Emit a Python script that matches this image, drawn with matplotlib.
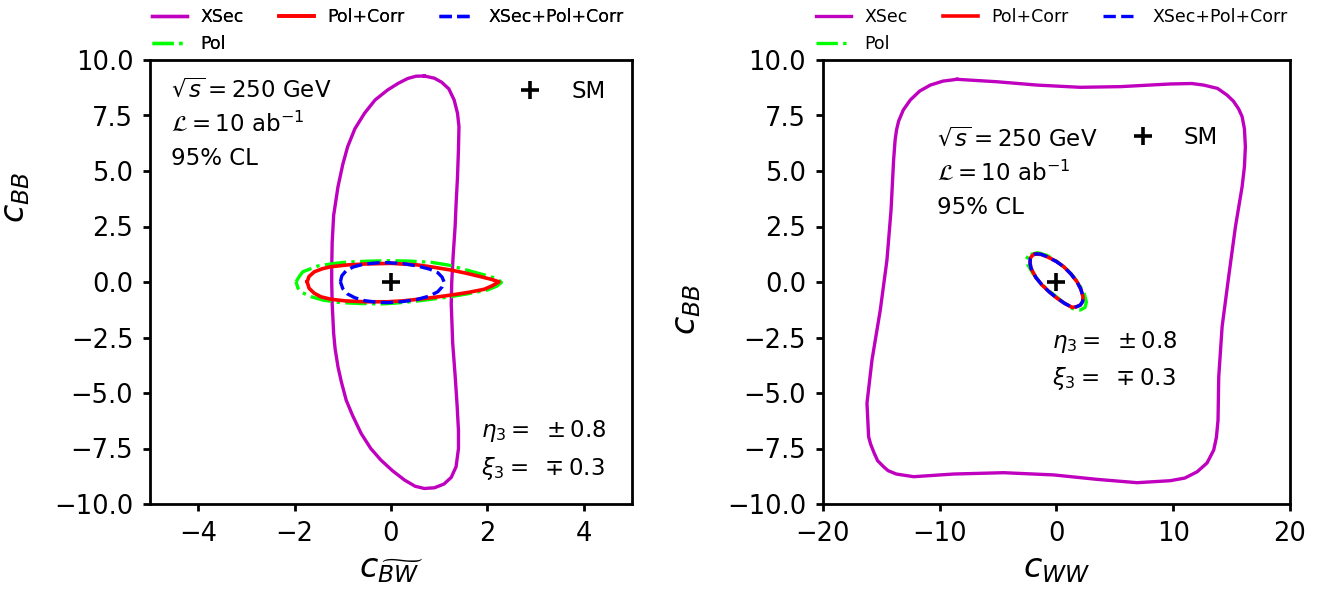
import matplotlib
matplotlib.use("Agg")
import matplotlib.pyplot as plt
from matplotlib.lines import Line2D

# ---- left panel: c_BB vs c_BWtilde (contours) ----
xsec_l_x = [0.69, 0.90, 1.05, 1.20, 1.31, 1.38, 1.41, 1.40, 1.38, 1.35, 1.33, 1.29, 1.26, 1.25,
            1.28, 1.33, 1.37, 1.40, 1.40, 1.35, 1.25, 1.10, 0.90, 0.69, 0.50, 0.28, 0.03, -0.21,
            -0.42, -0.62, -0.80, -0.93, -1.03, -1.10, -1.16, -1.19, -1.22, -1.23, -1.23, -1.22,
            -1.19, -1.10, -1.00, -0.90, -0.75, -0.55, -0.33, -0.07, 0.15, 0.35, 0.52, 0.69]
xsec_l_y = [9.28, 9.18, 9.00, 8.70, 8.20, 7.60, 7.00, 6.00, 4.74, 3.50, 2.49, 1.20, 0.00, -1.00,
            -2.76, -4.20, -5.50, -6.70, -7.50, -8.32, -8.80, -9.10, -9.27, -9.30, -9.20, -8.92,
            -8.50, -8.02, -7.50, -6.82, -6.00, -5.32, -4.50, -3.82, -3.00, -2.31, -1.00, 0.00,
            0.69, 1.80, 3.00, 4.29, 5.30, 6.09, 6.90, 7.60, 8.20, 8.65, 8.95, 9.17, 9.27, 9.28]

pol_l_x = [-1.97, -1.90, -1.83, -1.52, -1.20, -0.90, -0.45, 0.00, 0.40, 0.83, 1.20, 1.52, 1.80,
           2.07, 2.22, 2.29, 2.20, 2.00, 1.62, 1.24, 0.83, 0.41, 0.10, -0.21, -0.62, -1.04, -1.40,
           -1.66, -1.85, -1.93, -1.97]
pol_l_y = [0.01, 0.26, 0.46, 0.72, 0.83, 0.90, 0.94, 0.96, 0.94, 0.89, 0.76, 0.57, 0.40,
           0.24, 0.12, -0.02, -0.18, -0.36, -0.52, -0.66, -0.78, -0.89, -0.95, -0.99, -0.97,
           -0.93, -0.82, -0.66, -0.47, -0.28, 0.01]

polcorr_l_x = [-1.74, -1.70, -1.59, -1.42, -1.24, -0.90, -0.55, 0.00, 0.55, 0.90, 1.24, 1.55,
               1.86, 2.08, 2.24, 2.10, 1.93, 1.60, 1.24, 0.90, 0.55, 0.25, -0.07, -0.55, -0.95,
               -1.24, -1.45, -1.59, -1.70, -1.74]
polcorr_l_y = [0.01, 0.25, 0.46, 0.60, 0.69, 0.77, 0.81, 0.84, 0.77, 0.66, 0.54, 0.40, 0.24,
               0.12, 0.01, -0.17, -0.33, -0.47, -0.59, -0.69, -0.78, -0.85, -0.89, -0.89,
               -0.85, -0.78, -0.67, -0.51, -0.28, 0.01]

all_l_x = [-1.05, -1.02, -0.93, -0.78, -0.55, -0.30, -0.07, 0.25, 0.55, 0.80, 0.97, 1.06, 1.10,
           1.06, 0.97, 0.80, 0.55, 0.25, -0.07, -0.30, -0.55, -0.75, -0.90, -1.00, -1.05]
all_l_y = [0.01, 0.28, 0.51, 0.68, 0.81, 0.86, 0.87, 0.83, 0.72, 0.58, 0.42, 0.22, 0.01,
           -0.22, -0.44, -0.63, -0.78, -0.88, -0.93, -0.91, -0.84, -0.71, -0.54, -0.30, 0.01]

# ---- right panel: c_BB vs c_WW ----
xsec_r_x = [-8.50, -5.08, -1.65, 2.05, 5.48, 9.76, 11.60, 12.61, 13.80, 14.61, 15.15, 15.60, 15.90,
            16.10, 16.18, 16.10, 15.90, 15.33, 14.75, 14.19, 13.90, 13.84, 13.70, 13.47, 12.90,
            12.05, 11.00, 9.76, 6.91, 3.48, -0.23, -4.51, -8.79, -12.22, -13.70, -14.40, -14.79,
            -15.30, -15.60, -15.90, -16.07, -16.21, -15.78, -15.07, -14.50, -14.15, -13.93, -13.80,
            -13.68, -13.50, -13.10, -12.50, -11.70, -10.79, -9.70, -8.50]
xsec_r_y = [9.13, 9.02, 8.87, 8.77, 8.80, 8.92, 8.94, 8.87, 8.72, 8.42, 8.15, 7.80, 7.45,
            6.90, 6.09, 5.20, 4.29, 2.49, 0.24, -2.01, -4.27, -6.22, -7.00, -7.57, -8.15, -8.55,
            -8.83, -8.95, -9.04, -8.89, -8.69, -8.59, -8.65, -8.77, -8.65, -8.50, -8.32, -8.05,
            -7.70, -7.30, -6.97, -5.46, -3.51, -1.26, 0.99, 3.24, 5.50, 6.40, 6.85, 7.25, 7.75,
            8.20, 8.60, 8.87, 9.05, 9.13]

pol_r_x = [-2.20, -1.60, -0.80, 0.00, 0.70, 1.30, 1.90, 2.40, 2.57, 2.45, 2.05, 1.40, 0.60,
           -0.10, -0.80, -1.40, -2.00, -2.45, -2.57, -2.40, -2.20]
pol_r_y = [1.24, 1.32, 1.20, 0.94, 0.66, 0.35, -0.05, -0.55, -0.90, -1.15, -1.26, -1.20, -0.92,
           -0.62, -0.32, -0.02, 0.38, 0.78, 1.02, 1.18, 1.24]

polcorr_r_x = [-1.80, -1.30, -0.80, 0.00, 0.63, 1.25, 1.77, 2.10, 2.28, 2.25, 2.05, 1.70, 1.34,
               0.70, 0.06, -0.60, -1.22, -1.75, -2.17, -2.25, -2.23, -2.05, -1.80]
polcorr_r_y = [1.26, 1.24, 1.14, 0.93, 0.69, 0.36, 0.01, -0.33, -0.66, -0.88, -1.04, -1.12, -1.14,
               -0.96, -0.73, -0.45, -0.14, 0.20, 0.62, 0.85, 1.07, 1.20, 1.26]

all_r_x = [-1.80, -1.30, -0.80, 0.00, 0.63, 1.25, 1.77, 2.10, 2.28, 2.25, 2.05, 1.70, 1.34,
           0.70, 0.06, -0.60, -1.22, -1.75, -2.17, -2.25, -2.23, -2.05, -1.80]
all_r_y = [1.27, 1.25, 1.14, 0.92, 0.69, 0.36, 0.01, -0.33, -0.66, -0.88, -1.04, -1.12, -1.14,
           -0.96, -0.73, -0.45, -0.14, 0.20, 0.62, 0.85, 1.07, 1.20, 1.27]

sm_point = (0.0, 0.0)

info_labels = [r"$\sqrt{s} = 250$ GeV", r"$\mathcal{L} = 10$ ab$^{-1}$", "95% CL"]
pol_labels = [r"$\eta_3 =\ \pm 0.8$", r"$\xi_3 =\ \mp 0.3$"]
series_labels = ["XSec", "Pol", "Pol+Corr", "XSec+Pol+Corr"]

TICK_FS = 18.5
LABEL_FS = 24
NOTE_FS = 16.5
LEG_FS = 12.5

fig = plt.figure(figsize=(13.17, 5.89), dpi=100)
ax_l = fig.add_axes([150 / 1317, 85 / 589, 482 / 1317, 444 / 589])
ax_r = fig.add_axes([822.7 / 1317, 85 / 589, 467.3 / 1317, 444 / 589])


def draw_panel(ax, xs, ps, pcs, alls):
    l1, = ax.plot(xs[0], xs[1], color="m", lw=2.4)
    l2, = ax.plot(ps[0], ps[1], color="lime", lw=2.4, ls="-.")
    l3, = ax.plot(pcs[0], pcs[1], color="r", lw=2.6)
    l4, = ax.plot(alls[0], alls[1], color="b", lw=2.4, ls="--")
    ax.plot(*sm_point, marker="+", color="k", ms=13, mew=2.6, ls="none")
    for sp in ax.spines.values():
        sp.set_linewidth(2.0)
    ax.tick_params(labelsize=TICK_FS, width=2.0, length=5, pad=7)
    return [l1, l2, l3, l4]


def note_legend(ax, labels, **kw):
    handles = [Line2D([0], [0], color="C0", lw=0.5) for _ in labels]
    leg = ax.legend(handles, labels, handlelength=0, handletextpad=0.05, frameon=False,
                    fontsize=NOTE_FS, labelspacing=0.45, borderaxespad=0, **kw)
    ax.add_artist(leg)
    return leg


def sm_legend(ax, **kw):
    h = Line2D([0], [0], marker="+", color="k", ms=13, mew=2.6, ls="none")
    leg = ax.legend([h], ["SM"], frameon=False, fontsize=NOTE_FS, borderaxespad=0,
                    handletextpad=0.8, **kw)
    ax.add_artist(leg)
    return leg


# left
lines = draw_panel(ax_l, (xsec_l_x, xsec_l_y), (pol_l_x, pol_l_y),
                   (polcorr_l_x, polcorr_l_y), (all_l_x, all_l_y))
ax_l.set_xlim(-5, 5)
ax_l.set_ylim(-10, 10)
ax_l.set_xticks([-4, -2, 0, 2, 4])
ax_l.set_xlabel(r"$c_{\widetilde{BW}}$", fontsize=LABEL_FS)
ax_l.set_ylabel(r"$c_{BB}$", fontsize=LABEL_FS)
ax_l.yaxis.set_label_coords(-0.245, 0.69)
note_legend(ax_l, info_labels, loc="upper left", bbox_to_anchor=(0.022, 0.98))
sm_legend(ax_l, loc="upper right", bbox_to_anchor=(0.965, 0.975))
note_legend(ax_l, pol_labels, loc="lower right", bbox_to_anchor=(0.965, 0.03))
top_l = ax_l.legend(lines, series_labels, ncol=3, frameon=False, fontsize=LEG_FS,
                    loc="lower left", bbox_to_anchor=(-0.01, 1.0), borderaxespad=0)
ax_l.add_artist(top_l)

# right
lines = draw_panel(ax_r, (xsec_r_x, xsec_r_y), (pol_r_x, pol_r_y),
                   (polcorr_r_x, polcorr_r_y), (all_r_x, all_r_y))
ax_r.set_xlim(-20, 20)
ax_r.set_ylim(-10, 10)
ax_r.set_xticks([-20, -10, 0, 10, 20])
ax_r.set_xlabel(r"$c_{WW}$", fontsize=LABEL_FS)
ax_r.set_ylabel(r"$c_{BB}$", fontsize=LABEL_FS)
ax_r.yaxis.set_label_coords(-0.256, 0.437)
note_legend(ax_r, info_labels, loc="upper left", bbox_to_anchor=(0.222, 0.87))
sm_legend(ax_r, loc="upper right", bbox_to_anchor=(0.866, 0.872))
note_legend(ax_r, pol_labels, loc="upper left", bbox_to_anchor=(0.468, 0.415))
ax_r.legend(lines, series_labels, ncol=3, frameon=False, fontsize=LEG_FS,
            loc="lower left", bbox_to_anchor=(-0.029, 1.0), borderaxespad=0)

fig.savefig("out.png", dpi=100)
